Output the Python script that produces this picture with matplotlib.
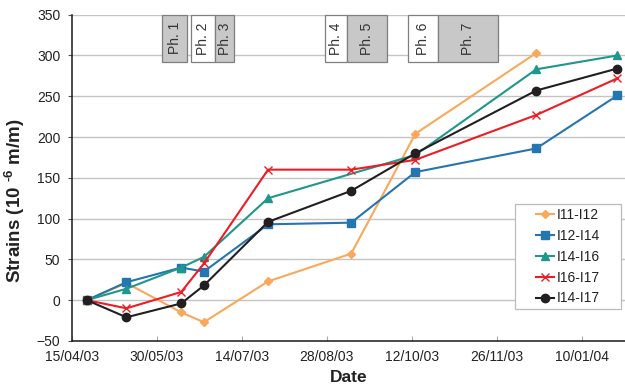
import matplotlib
matplotlib.use("Agg")
import matplotlib.pyplot as plt
import matplotlib.dates as mdates
from matplotlib.patches import Rectangle
import numpy as np

plt.rcParams['font.family'] = ['Liberation Sans', 'DejaVu Sans']
plt.rcParams['mathtext.fontset'] = 'custom'
plt.rcParams['mathtext.rm'] = 'Liberation Sans:bold'
plt.rcParams['mathtext.default'] = 'rm'

# Reading dates and strain values (NaN = no reading for that gauge pair)
dates = np.array(['2003-04-23', '2003-05-14', '2003-06-12', '2003-06-24', '2003-07-28',
                  '2003-09-10', '2003-10-14', '2003-12-17', '2004-01-29'], dtype='datetime64[D]')
i11_i12 = [0, 21, -15, -27, 23, 57, 204, 303, np.nan]
i12_i14 = [0, 22, 40, 35, 93, 95, 157, 186, 251]
i14_i16 = [0, 14, 40, 53, 125, np.nan, 178, 283, 300]
i16_i17 = [0, -10, 10, 45, 160, 160, 172, 227, 272]
i14_i17 = [0, -21, -4, 18, 96, 134, 180, 257, 284]

# Construction phases
phase_names = ['Ph. 1', 'Ph. 2', 'Ph. 3', 'Ph. 4', 'Ph. 5', 'Ph. 6', 'Ph. 7']
phase_start = ['2003-06-02', '2003-06-17', '2003-06-30', '2003-08-27', '2003-09-08', '2003-10-10', '2003-10-26']
phase_end = ['2003-06-15', '2003-06-30', '2003-07-10', '2003-09-08', '2003-09-29', '2003-10-26', '2003-11-27']
phase_shaded = [True, False, True, False, True, False, True]

tick_dates = ['2003-04-15', '2003-05-30', '2003-07-14', '2003-08-28',
              '2003-10-12', '2003-11-26', '2004-01-10']

series = [
    ('I11-I12', i11_i12, '#F9A85C', 'D', 4.0, 1.0),
    ('I12-I14', i12_i14, '#2475B0', 's', 5.5, 1.0),
    ('I14-I16', i14_i16, '#1F978A', '^', 6.0, 1.0),
    ('I16-I17', i16_i17, '#EE1C25', 'x', 6.0, 1.0),
    ('I14-I17', i14_i17, '#231F20', 'o', 6.0, 1.0),
]

fig = plt.figure(figsize=(6.25, 3.91), dpi=100)
ax = fig.add_axes([0.1147, 0.128, 0.8853, 0.8345])

for name, vals, color, marker, ms, mew in series:
    v = np.array(vals, dtype=float)
    m = ~np.isnan(v)
    ax.plot(dates[m], v[m], color=color, marker=marker, markersize=ms,
            markeredgewidth=mew, linewidth=1.5, label=name, zorder=3)

# Phase boxes along the top
for name, s, e, shaded in zip(phase_names, phase_start, phase_end, phase_shaded):
    x0 = mdates.date2num(np.datetime64(s))
    x1 = mdates.date2num(np.datetime64(e))
    ax.add_patch(Rectangle((x0, 292), x1 - x0, 58,
                           facecolor='#C8C8C8' if shaded else 'white',
                           edgecolor='#7F7F7F', linewidth=0.9, zorder=2.5, clip_on=False))
    ax.text((x0 + x1) / 2, 321, name, rotation=90, ha='center', va='center',
            fontsize=10, color='#333333', zorder=2.6)

ax.set_ylim(-50, 350)
ax.set_yticks(np.arange(-50, 351, 50))
ax.set_xlim(mdates.date2num(np.datetime64('2003-04-15')),
            mdates.date2num(np.datetime64('2004-02-02')))
ax.set_xticks([mdates.date2num(np.datetime64(d)) for d in tick_dates])
ax.xaxis.set_major_formatter(mdates.DateFormatter('%d/%m/%y'))

ax.grid(axis='y', color='#C4C4C4', linewidth=1.0, zorder=0)
ax.set_axisbelow(True)
for side in ['top', 'right']:
    ax.spines[side].set_visible(False)
for side in ['left', 'bottom']:
    ax.spines[side].set_linewidth(1.1)
    ax.spines[side].set_color('#1A1A1A')

ax.tick_params(axis='x', direction='in', length=3.5, color='#AAAAAA', pad=6.5,
               labelsize=10, labelcolor='#222222')
ax.tick_params(axis='y', direction='out', length=2.7, color='#555555', pad=5.5,
               labelsize=10, labelcolor='#222222')

ax.set_xlabel('Date', fontsize=12.5, fontweight='bold', color='#222222', labelpad=4)
ax.set_ylabel(r'Strains (10 $^{\text{-6}}$ m/m)', fontsize=13.5, fontweight='bold',
              color='#222222')
ax.yaxis.set_label_coords(-0.080, 0.43)

# Legend frame drawn separately so the entries sit centred in a wider box
lx0, lx1, ly0, ly1 = 0.8017, 0.9921, 0.098, 0.419
ax.add_patch(Rectangle((lx0, ly0), lx1 - lx0, ly1 - ly0, transform=ax.transAxes,
                       facecolor='white', edgecolor='#BBBBBB', linewidth=0.9, zorder=4))
leg = ax.legend(loc='center', bbox_to_anchor=((lx0 + lx1) / 2, (ly0 + ly1) / 2),
                frameon=False, fontsize=10, handlelength=1.3, handletextpad=0.2,
                labelspacing=0.5, borderpad=0.2)
leg.set_zorder(5)
for t in leg.get_texts():
    t.set_color('#222222')

fig.savefig('out.png', dpi=100)
